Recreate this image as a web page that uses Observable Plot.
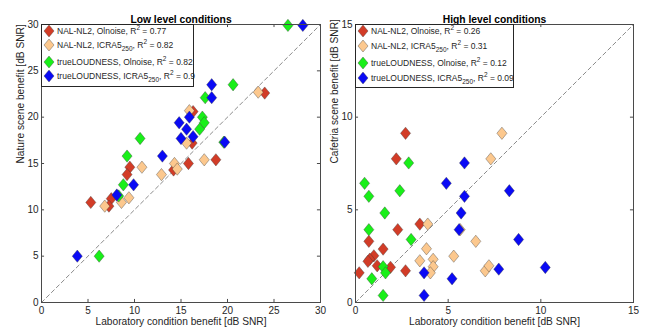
<!DOCTYPE html>
<html>
<head>
<meta charset="utf-8">
<script src="https://cdn.jsdelivr.net/npm/d3@7"></script>
<script src="https://cdn.jsdelivr.net/npm/@observablehq/plot@0.6"></script>
<style>
  html, body { margin: 0; padding: 0; background: #fff; }
  #wrap { position: relative; width: 645px; height: 336px; display: flex; font-family: 'Liberation Sans', Arial, sans-serif; background: #fff; }
  #wrap svg { display: block; overflow: visible; }
  .legend { position: absolute; box-sizing: border-box; border: 1px solid #262626; background: #fff; }
  .row { position: absolute; left: 0; height: 12px; display: flex; align-items: center; white-space: nowrap; font-size: 8.5px; color: #262626; line-height: 12px; }
  .row svg { margin-left: 1px; margin-right: 2px; }
  .row sub { font-size: 6.5px; vertical-align: -3px; line-height: 0; }
  .row sup { font-size: 6.5px; vertical-align: 4px; line-height: 0; }
</style>
</head>
<body>
<div id="wrap"></div>
<script>
// ---- Data ----
const seriesNames = ["NAL-NL2, Olnoise", "NAL-NL2, ICRA5_250", "trueLOUDNESS, Olnoise", "trueLOUDNESS, ICRA5_250"];
const seriesColors = ["#d23c27", "#fcc88e", "#19ef19", "#0a0af5"];

const lowTicks = [0, 5, 10, 15, 20, 25, 30];
const highTicks = [0, 5, 10, 15];

const lowR2 = ["0.77", "0.82", "0.82", "0.9"];
const highR2 = ["0.26", "0.31", "0.12", "0.09"];

// Low level conditions
const lowNalOlX = [24.0, 16.3, 16.2, 18.75, 15.8, 14.2, 9.5, 9.2, 7.5, 7.25, 5.3];
const lowNalOlY = [22.6, 20.6, 17.2, 15.4, 15.0, 14.3, 14.6, 13.8, 11.2, 10.4, 10.8];
const lowNalIcX = [23.3, 15.9, 15.6, 17.5, 14.3, 14.6, 10.8, 12.9, 9.4, 8.6, 6.8];
const lowNalIcY = [22.7, 20.7, 17.2, 15.4, 15.0, 14.4, 14.6, 13.8, 11.3, 10.8, 10.4];
const lowTlOlX = [26.5, 20.6, 17.6, 17.3, 17.5, 17.0, 19.6, 10.6, 9.2, 8.8, 8.3, 6.2];
const lowTlOlY = [29.9, 23.5, 22.1, 20.0, 19.4, 18.7, 17.3, 17.7, 15.8, 12.7, 11.5, 5.0];
const lowTlIcX = [28.1, 18.3, 18.3, 15.9, 14.8, 15.6, 15.0, 16.3, 19.7, 13.0, 9.9, 8.1, 3.85];
const lowTlIcY = [29.9, 23.5, 22.1, 20.0, 19.4, 18.7, 17.7, 17.9, 17.3, 15.8, 12.7, 11.6, 5.0];

// High level conditions
const highNalOlX = [2.7, 2.2, 3.47, 2.28, 0.72, 1.49, 0.99, 0.77, 0.67, 1.17, 1.89, 0.2, 2.7];
const highNalOlY = [9.13, 7.75, 4.23, 3.93, 3.3, 2.88, 2.52, 2.34, 2.22, 1.98, 1.9, 1.6, 1.71];
const highNalIcX = [7.9, 7.3, 3.9, 5.65, 6.49, 3.83, 3.47, 4.19, 5.3, 4.19, 4.04, 7.0, 7.2];
const highNalIcY = [9.13, 7.75, 4.23, 3.93, 3.3, 2.9, 2.25, 2.33, 2.5, 1.93, 1.6, 1.71, 1.98];
const highTlOlX = [2.87, 0.49, 0.72, 2.39, 1.58, 0.72, 3.0, 1.49, 1.62, 0.88, 1.49];
const highTlOlY = [7.53, 6.43, 5.73, 6.03, 4.83, 3.93, 3.4, 1.93, 1.6, 1.28, 0.38];
const highTlIcX = [5.88, 4.9, 5.88, 8.3, 5.7, 5.59, 8.8, 3.7, 5.21, 7.73, 10.24, 3.7];
const highTlIcY = [7.53, 6.43, 5.73, 6.03, 4.83, 3.93, 3.4, 1.6, 1.28, 1.8, 1.89, 0.38];

// ---- Build tables ----
function table(xsList, ysList) {
  const rows = [];
  xsList.forEach((xs, s) => xs.forEach((x, i) => rows.push({x, y: ysList[s][i], s})));
  return rows;
}
const lowData = table([lowNalOlX, lowNalIcX, lowTlOlX, lowTlIcX], [lowNalOlY, lowNalIcY, lowTlOlY, lowTlIcY]);
const highData = table([highNalOlX, highNalIcX, highTlOlX, highTlIcX], [highNalOlY, highNalIcY, highTlOlY, highTlIcY]);

// MATLAB-like diamond (slightly taller than wide)
const matDiamond = {
  draw(context, size) {
    const r = Math.sqrt(size / Math.PI);
    const w = r * 0.9, h = r * 1.1;
    context.moveTo(0, -h);
    context.lineTo(w, 0);
    context.lineTo(0, h);
    context.lineTo(-w, 0);
    context.closePath();
  }
};

function panel({data, ticks, max, title, ylabel, width, marginLeft, marginRight}) {
  const tl = max * 0.011;
  return Plot.plot({
    width, height: 336,
    marginLeft, marginRight, marginTop: 24, marginBottom: 34,
    x: {domain: [0, max], label: null},
    y: {domain: [0, max], label: null},
    style: {fontFamily: "'Liberation Sans', Arial, sans-serif", fontSize: "10px", color: "#262626", background: "transparent", overflow: "visible"},
    marks: [
      Plot.line([[0, 0], [max, max]], {stroke: "#8c8c8c", strokeWidth: 1, strokeDasharray: "4,3"}),
      Plot.dot(data, {
        x: "x", y: "y", r: 5.6, symbol: matDiamond,
        fill: d => seriesColors[d.s],
        stroke: "#3a3a3a", strokeWidth: 0.55, strokeOpacity: 0.7
      }),
      Plot.frame({stroke: "#4a4a4a", strokeWidth: 1}),
      Plot.ruleX(ticks, {x: d => d, y1: 0, y2: tl, stroke: "#4a4a4a"}),
      Plot.ruleX(ticks, {x: d => d, y1: max, y2: max - tl, stroke: "#4a4a4a"}),
      Plot.ruleY(ticks, {y: d => d, x1: 0, x2: tl, stroke: "#4a4a4a"}),
      Plot.ruleY(ticks, {y: d => d, x1: max, x2: max - tl, stroke: "#4a4a4a"}),
      Plot.axisX(ticks, {tickSize: 0, tickPadding: 4, label: null, fontSize: 10}),
      Plot.axisY(ticks, {tickSize: 0, tickPadding: 3, label: null, fontSize: 10}),
      Plot.text([title], {frameAnchor: "top", dy: -9, fontWeight: "bold", fontSize: 10.3, fill: "#000"}),
      Plot.text(["Laboratory condition benefit [dB SNR]"], {frameAnchor: "bottom", dy: 22, fontSize: 10.2, fill: "#262626"}),
      Plot.text([ylabel], {frameAnchor: "left", dx: -21, rotate: -90, fontSize: 10.2, fill: "#262626"})
    ]
  });
}

const wrap = document.getElementById("wrap");
wrap.appendChild(panel({data: lowData, ticks: lowTicks, max: 30, title: "Low level conditions",
  ylabel: "Nature scene benefit [dB SNR]", width: 322, marginLeft: 41, marginRight: 2}));
wrap.appendChild(panel({data: highData, ticks: highTicks, max: 15, title: "High level conditions",
  ylabel: "Cafetria scene benefit [dB SNR]", width: 323, marginLeft: 33, marginRight: 12}));

function legendLabel(name, r2) {
  const parts = name.split("_");
  let html = parts[0];
  if (parts.length > 1) html += "<sub>" + parts[1] + "</sub>";
  return html + ", R<sup>2</sup> = " + r2;
}

function legend(left, top, w, h, r2s, rowTops) {
  const div = document.createElement("div");
  div.className = "legend";
  Object.assign(div.style, {left: left + "px", top: top + "px", width: w + "px", height: h + "px"});
  seriesNames.forEach((name, i) => {
    const row = document.createElement("div");
    row.className = "row";
    row.style.top = rowTops[i] + "px";
    row.innerHTML = `<svg width="12" height="12" viewBox="-6 -6 12 12"><path d="M0,-6L5,0L0,6L-5,0Z" fill="${seriesColors[i]}" stroke="#3a3a3a" stroke-width="0.55" stroke-opacity="0.7"/></svg><span>${legendLabel(name, r2s[i])}</span>`;
    div.appendChild(row);
  });
  wrap.appendChild(div);
}
legend(41, 24, 153, 63, lowR2, [0, 14, 31, 45]);
legend(355, 24, 159, 64, highR2, [0, 15, 32, 47]);
</script>
</body>
</html>
